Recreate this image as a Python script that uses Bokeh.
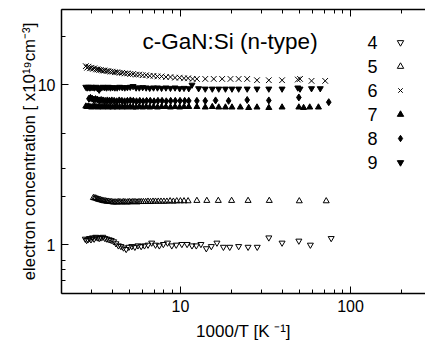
from bokeh.plotting import figure
from bokeh.models import (Range1d, LogAxis, LogTicker, FixedTicker, Label, Legend,
                          LegendItem, PrintfTickFormatter)
from bokeh.embed import file_html
from bokeh.resources import INLINE

# ---------------- data ----------------
x4 = [2.76, 2.81, 2.86, 2.92, 2.98, 3.04, 3.11, 3.18, 3.25, 3.33, 3.41, 3.50, 3.60, 3.70,
      3.81, 3.92, 4.05, 4.18, 4.32, 4.47, 4.63, 4.80, 4.98, 5.18, 5.40, 5.63, 5.88, 6.15,
      6.45, 6.78, 7.14, 7.52, 7.94, 8.40, 8.90, 9.45, 10.2, 10.95, 11.7, 12.4, 13.2, 14.2,
      15.2, 16.4, 17.9, 19.5, 22.0, 25.0, 28.3, 33.1, 39.6, 49.7, 58.1, 77.0]
y4 = [1.09, 1.07, 1.08, 1.10, 1.08, 1.11, 1.09, 1.12, 1.11, 1.10, 1.11, 1.12, 1.10, 1.09,
      1.08, 1.07, 1.05, 1.02, 0.99, 0.98, 0.96, 0.94, 0.97, 0.98, 0.97, 0.99, 0.98, 0.99,
      1.00, 1.03, 1.00, 0.99, 1.01, 1.03, 0.99, 1.00, 1.01, 1.01, 0.99, 0.99, 1.01, 0.95,
      0.98, 1.03, 0.97, 0.97, 0.98, 0.97, 0.97, 1.11, 1.03, 1.06, 1.00, 1.10]

x5 = [3.08, 3.13, 3.18, 3.23, 3.28, 3.33, 3.39, 3.45, 3.51, 3.57, 3.64, 3.70, 3.77, 3.85,
      3.92, 4.00, 4.08, 4.17, 4.26, 4.35, 4.44, 4.55, 4.65, 4.76, 4.88, 5.00, 5.13, 5.26,
      5.41, 5.56, 5.71, 5.88, 6.06, 6.25, 6.45, 6.67, 6.90, 7.14, 7.41, 7.69, 8.00, 8.33,
      8.70, 9.09, 9.52, 10.0, 10.5, 11.1, 12.5, 14.3, 16.7, 20.0, 25.0, 33.3, 50.0, 72.0]
y5 = [1.97, 1.96, 1.96, 1.94, 1.93, 1.92, 1.91, 1.90, 1.89, 1.88, 1.88, 1.87, 1.87, 1.86,
      1.86, 1.85, 1.85, 1.85, 1.85, 1.86, 1.85, 1.85, 1.86, 1.85, 1.85, 1.86, 1.85, 1.86,
      1.86, 1.85, 1.86, 1.86, 1.86, 1.86, 1.87, 1.86, 1.87, 1.87, 1.87, 1.87, 1.87, 1.87,
      1.88, 1.87, 1.88, 1.88, 1.88, 1.88, 1.89, 1.89, 1.89, 1.89, 1.89, 1.89, 1.88, 1.88]

x6 = [2.78, 2.83, 2.88, 2.94, 3.00, 3.06, 3.12, 3.19, 3.26, 3.33, 3.41, 3.50, 3.58, 3.68,
      3.77, 3.88, 4.00, 4.12, 4.25, 4.39, 4.55, 4.71, 4.88, 5.07, 5.27, 5.49, 5.73, 6.00,
      6.29, 6.60, 6.95, 7.33, 7.75, 8.22, 8.74, 9.30, 9.90, 10.5, 11.1, 11.8, 12.5, 14.0,
      15.7, 17.6, 19.7, 22.0, 24.7, 28.2, 33.1, 39.6, 49.0, 50.5, 59.0, 71.0]
y6 = [13.1, 12.8, 13.0, 12.7, 12.8, 12.6, 12.7, 12.5, 12.5, 12.4, 12.4, 12.3, 12.3, 12.2,
      12.2, 12.1, 12.1, 12.0, 12.0, 11.9, 11.9, 11.8, 11.8, 11.7, 11.7, 11.6, 11.6, 11.5,
      11.5, 11.4, 11.4, 11.3, 11.3, 11.2, 11.2, 11.1, 11.1, 11.0, 11.0, 10.9, 10.9, 10.9,
      10.9, 10.9, 10.9, 10.9, 10.9, 10.7, 10.7, 10.7, 10.8, 10.9, 10.6, 10.6]

x7 = [2.78, 2.83, 2.88, 2.94, 3.00, 3.06, 3.12, 3.19, 3.26, 3.33, 3.41, 3.50, 3.58, 3.68,
      3.77, 3.88, 4.00, 4.12, 4.25, 4.39, 4.55, 4.71, 4.88, 5.07, 5.27, 5.49, 5.73, 6.00,
      6.29, 6.60, 6.95, 7.33, 7.75, 8.22, 8.74, 9.30, 9.90, 10.5, 11.2, 12.5, 14.0, 15.4,
      16.8, 18.4, 20.1, 22.5, 25.2, 28.2, 33.1, 39.6, 49.7, 53.0, 57.6, 64.8]
y7 = [7.35, 7.30, 7.35, 7.30, 7.25, 7.30, 7.35, 7.30, 7.25, 7.30, 7.30, 7.25, 7.30, 7.30,
      7.25, 7.30, 7.25, 7.30, 7.25, 7.30, 7.25, 7.30, 7.25, 7.30, 7.25, 7.25, 7.30, 7.25,
      7.30, 7.25, 7.30, 7.25, 7.30, 7.30, 7.25, 7.30, 7.25, 7.30, 7.30, 7.30, 7.25, 7.30,
      7.25, 7.25, 7.25, 7.25, 7.20, 7.25, 7.20, 7.25, 7.25, 7.20, 7.25, 7.25]

x8 = [2.90, 2.96, 3.03, 3.10, 3.17, 3.25, 3.33, 3.42, 3.51, 3.61, 3.72, 3.83, 3.95, 4.08,
      4.22, 4.37, 4.53, 4.70, 4.88, 5.08, 5.29, 5.52, 5.77, 6.04, 6.33, 6.65, 7.00, 7.38,
      7.80, 8.26, 8.77, 9.33, 9.95, 10.6, 11.2, 12.5, 14.0, 16.1, 19.2, 24.7, 33.1, 49.7, 74.5]
y8 = [8.20, 8.30, 8.20, 8.10, 8.15, 8.10, 8.00, 8.05, 8.00, 7.95, 8.00, 7.95, 8.00, 7.95,
      7.90, 8.00, 7.95, 7.90, 7.95, 8.00, 7.95, 7.90, 7.95, 7.90, 7.95, 7.95, 7.90, 7.95,
      7.95, 7.90, 7.95, 7.95, 7.95, 7.95, 7.95, 7.95, 7.95, 8.00, 7.95, 8.05, 8.00, 8.35, 7.80]

x9 = [2.78, 2.83, 2.88, 2.94, 3.00, 3.06, 3.12, 3.19, 3.26, 3.33, 3.41, 3.50, 3.58, 3.68,
      3.77, 3.88, 4.00, 4.12, 4.25, 4.39, 4.55, 4.71, 4.88, 5.07, 5.27, 5.49, 5.73, 6.00,
      6.29, 6.60, 6.95, 7.33, 7.75, 8.22, 8.74, 9.30, 9.90, 10.5, 11.2, 11.7, 12.8, 14.0,
      15.4, 16.8, 18.4, 20.1, 22.0, 24.7, 28.2, 33.1, 39.6, 49.0, 50.5, 59.0, 66.4]
y9 = [9.70, 9.60, 9.70, 9.60, 9.70, 9.65, 9.60, 9.70, 9.50, 9.30, 9.60, 9.70, 9.65, 9.60,
      9.70, 9.60, 9.65, 9.60, 9.60, 9.70, 9.65, 9.60, 9.65, 9.70, 9.80, 9.60, 9.60, 9.65,
      9.60, 9.55, 9.60, 9.60, 9.55, 9.60, 9.55, 9.60, 9.50, 9.55, 9.50, 10.0, 9.50, 9.45,
      9.45, 9.45, 9.45, 9.45, 9.45, 9.45, 9.45, 9.45, 9.45, 9.60, 9.45, 9.50, 9.50]

series_labels = ["4", "5", "6", "7", "8", "9"]
y_major = [1, 10]
y_minor = [0.6, 0.7, 0.8, 2, 3, 5, 20]

title_text = "c-GaN:Si (n-type)"
x_label = "1000/T [K \u207b\u00b9]"
y_label = "electron concentration [ x10\u00b9\u2079cm\u207b\u00b3]"

FONT = "Liberation Sans"

# ---------------- figure ----------------
# the figure is shifted 16 px right with a margin so that the y-axis title sits
# where the reference has it; the frame spans x 61..425, y 9..293
p = figure(width=409, height=343, x_axis_type="log", y_axis_type="log",
           x_range=Range1d(2, 276), y_range=Range1d(0.497, 29.6),
           output_backend="svg", toolbar_location=None,
           min_border_left=45, min_border_right=0, min_border_top=9, min_border_bottom=50)
p.margin = (0, 0, 0, 16)
p.outline_line_color = None
p.xgrid.visible = False
p.ygrid.visible = False
p.background_fill_color = "white"
p.border_fill_color = "white"

p.yaxis.ticker = FixedTicker(ticks=y_major, minor_ticks=y_minor)
p.xaxis.ticker = LogTicker(num_minor_ticks=10)

for ax in (p.xaxis[0], p.yaxis[0]):
    ax.formatter = PrintfTickFormatter(format="%d")
    ax.major_tick_in = 7
    ax.major_tick_out = 0
    ax.minor_tick_in = 4
    ax.minor_tick_out = 0
    ax.axis_line_width = 1.5
    ax.axis_line_color = "black"
    ax.major_tick_line_color = "black"
    ax.minor_tick_line_color = "black"
    ax.major_label_text_font = FONT
    ax.major_label_text_font_size = "16px"
    ax.major_label_text_color = "black"
    ax.axis_label_text_font = FONT
    ax.axis_label_text_font_style = "normal"
    ax.axis_label_text_color = "black"

p.xaxis.axis_label = x_label
p.yaxis.axis_label = y_label
p.xaxis.axis_label_text_font_size = "17px"
p.yaxis.axis_label_text_font_size = "16.8px"
p.xaxis.major_label_standoff = 6
p.yaxis.major_label_standoff = 6
p.xaxis.axis_label_standoff = 7
p.yaxis.axis_label_standoff = -4

top = LogAxis(ticker=LogTicker(num_minor_ticks=10),
              formatter=PrintfTickFormatter(format="%d"),
              major_label_text_font_size="1px", major_label_text_color=None,
              major_label_standoff=0, major_tick_in=7, major_tick_out=0,
              minor_tick_in=4, minor_tick_out=0, axis_line_width=1.5,
              axis_line_color="black", major_tick_line_color="black",
              minor_tick_line_color="black")
p.add_layout(top, "above")

# ---------------- data marks ----------------
r4 = p.scatter(x4, y4, marker="inverted_triangle", size=6, fill_color=None,
               line_color="black", line_width=1)
r5 = p.scatter(x5, y5, marker="triangle", size=6, fill_color=None,
               line_color="black", line_width=1)
r6 = p.scatter(x6, y6, marker="x", size=8, line_color="black", line_width=1)
r7 = p.scatter(x7, y7, marker="triangle", size=6, fill_color="black",
               line_color="black", line_width=1)
r8 = p.scatter(x8, y8, marker="diamond", size=7, fill_color="black",
               line_color="black", line_width=1)
r9 = p.scatter(x9, y9, marker="inverted_triangle", size=6, fill_color="black",
               line_color="black", line_width=1)

# ---------------- title inside plot ----------------
p.add_layout(Label(x=19.6, y=18.8, text=title_text, text_align="center",
                   text_baseline="alphabetic",
                   text_font=FONT, text_font_size="22.5px", text_color="black"))

# ---------------- legend: numbers as labels, markers via Legend ----------------
legend_rows_y = [18.3, 12.96, 9.17, 6.49, 4.60, 3.26]
for lab, yy in zip(series_labels, legend_rows_y):
    p.add_layout(Label(x=126, y=yy, text=lab, text_align="left", text_baseline="middle",
                       text_font=FONT, text_font_size="18px", text_color="black"))

items = [LegendItem(label=" ", renderers=[r]) for r in [r4, r5, r6, r7, r8, r9]]
legend = Legend(items=items, location=(331, 119), glyph_width=16, glyph_height=24,
                label_height=24, label_width=1, spacing=0, padding=0, margin=0,
                label_standoff=0, border_line_color=None, background_fill_alpha=0,
                label_text_font=FONT, label_text_font_size="10px")
p.add_layout(legend)

open("out.html", "w").write(file_html(p, INLINE))
